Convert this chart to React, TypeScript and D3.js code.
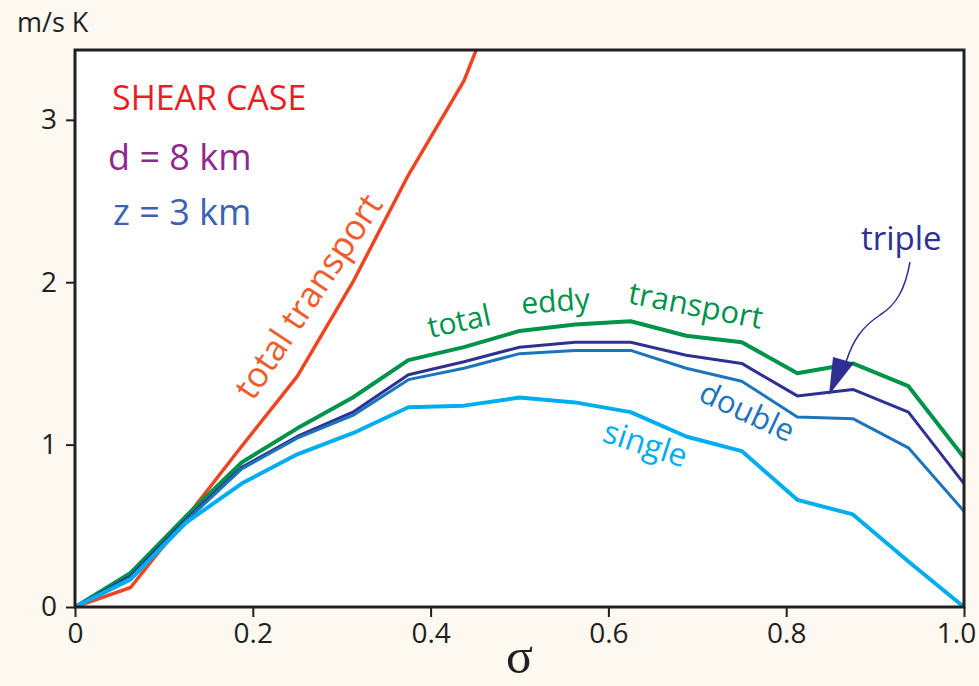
import React, { useRef, useEffect } from "react";
import * as d3 from "d3";

// sigma levels (17 points, step 1/16)
const sigma = [
  0, 0.0625, 0.125, 0.1875, 0.25, 0.3125, 0.375, 0.4375, 0.5, 0.5625, 0.625, 0.6875, 0.75, 0.8125, 0.875,
  0.9375, 1.0,
];
// total transport only defined until it leaves the frame
const totalTransport = [0, 0.12, 0.55, 0.99, 1.42, 2.0, 2.66, 3.24, 4.1];
const totalEddy = [0, 0.21, 0.56, 0.89, 1.1, 1.29, 1.52, 1.6, 1.7, 1.74, 1.76, 1.67, 1.63, 1.44, 1.5, 1.36, 0.92];
const triple = [0, 0.19, 0.54, 0.86, 1.05, 1.2, 1.43, 1.51, 1.6, 1.63, 1.63, 1.55, 1.5, 1.3, 1.34, 1.2, 0.76];
const double = [0, 0.18, 0.53, 0.85, 1.04, 1.18, 1.4, 1.47, 1.56, 1.58, 1.58, 1.47, 1.39, 1.17, 1.16, 0.98, 0.59];
const single = [0, 0.17, 0.52, 0.76, 0.94, 1.07, 1.23, 1.24, 1.29, 1.26, 1.2, 1.05, 0.96, 0.66, 0.57, 0.28, 0];

const xTicks = [0, 0.2, 0.4, 0.6, 0.8, 1.0];
const yTicks = [0, 1, 2, 3];

const series = [
  { name: "total transport", values: totalTransport, color: "#ef4423", width: 3.5 },
  { name: "total eddy", values: totalEddy, color: "#00934a", width: 4 },
  { name: "triple", values: triple, color: "#2e3192", width: 3 },
  { name: "double", values: double, color: "#1c75bc", width: 3 },
  { name: "single", values: single, color: "#00aeef", width: 4 },
];

const FONT = "'Open Sans', 'Noto Sans', sans-serif";

const ShearChart = ({ width = 979, height = 686 }) => {
  const svgRef = useRef(null);

  useEffect(() => {
    const svg = d3.select(svgRef.current);
    svg.selectAll("*").remove();

    const left = 75,
      right = 964,
      top = 50,
      bottom = 607;

    svg.append("rect").attr("width", width).attr("height", height).attr("fill", "#fdf8f0");

    const x = d3.scaleLinear().domain([0, 1]).range([left, right]);
    const y = d3.scaleLinear().domain([0, 3.43]).range([bottom, top]);

    svg
      .append("rect")
      .attr("x", left)
      .attr("y", top)
      .attr("width", right - left)
      .attr("height", bottom - top)
      .attr("fill", "#ffffff");

    svg
      .append("clipPath")
      .attr("id", "plot-clip")
      .append("rect")
      .attr("x", left)
      .attr("y", top)
      .attr("width", right - left)
      .attr("height", bottom - top);

    // axes
    const gx = svg
      .append("g")
      .attr("transform", `translate(0,${bottom})`)
      .call(
        d3
          .axisBottom(x)
          .tickValues(xTicks)
          .tickSize(10)
          .tickPadding(6)
          .tickFormat((d) => (d === 0 ? "0" : d3.format(".1f")(d)))
      );
    const gy = svg
      .append("g")
      .attr("transform", `translate(${left},0)`)
      .call(d3.axisLeft(y).tickValues(yTicks).tickSize(9).tickPadding(9).tickFormat(d3.format("d")));

    [gx, gy].forEach((g) => {
      g.select(".domain").remove();
      g.selectAll("line").attr("stroke", "#231f20").attr("stroke-width", 2);
      g.selectAll("text").attr("fill", "#231f20").style("font-family", FONT).style("font-size", "28px");
    });
    // keep the last x label inside the page
    gx.selectAll("text")
      .filter((d) => d === 1)
      .attr("dx", -8);

    // lines
    const lineGroup = svg.append("g").attr("clip-path", "url(#plot-clip)");
    series.forEach((s) => {
      const line = d3
        .line()
        .x((d, i) => x(sigma[i]))
        .y((d) => y(d));
      lineGroup
        .append("path")
        .datum(s.values)
        .attr("fill", "none")
        .attr("stroke", s.color)
        .attr("stroke-width", s.width)
        .attr("stroke-linejoin", "round")
        .attr("d", line);
    });

    // frame
    svg
      .append("rect")
      .attr("x", left)
      .attr("y", top)
      .attr("width", right - left)
      .attr("height", bottom - top)
      .attr("fill", "none")
      .attr("stroke", "#231f20")
      .attr("stroke-width", 3);

    const label = (txt, px, py, color, size, rotate = 0, anchor = "start") =>
      svg
        .append("text")
        .attr("transform", `translate(${px},${py}) rotate(${rotate})`)
        .attr("text-anchor", anchor)
        .attr("fill", color)
        .style("font-family", FONT)
        .style("font-size", `${size}px`)
        .text(txt);

    label("m/s K", 17, 32, "#231f20", 27);
    label("SHEAR CASE", 112, 110, "#ed1c24", 34);
    label("d = 8 km", 108, 170, "#92278f", 36);
    label("z = 3 km", 113, 225, "#3b63b3", 36);

    label("total transport", 253, 402, "#f15a29", 35, -56.5);
    label("total", 430, 338, "#00934a", 30, -12);
    label("eddy", 522, 314, "#00934a", 30, -4);
    label("transport", 627, 303, "#00934a", 31, 11);
    label("double", 697, 400, "#1c75bc", 31, 25);
    label("single", 601, 441, "#00aeef", 32, 18);
    label("triple", 861, 250, "#2e3192", 33);

    // arrow to the triple curve
    svg
      .append("path")
      .attr("d", "M910,262 C905,290 896,305 880,315 C862,327 853,340 846,362")
      .attr("fill", "none")
      .attr("stroke", "#2e3192")
      .attr("stroke-width", 1.5);
    svg.append("path").attr("d", "M833,357 L854,363 L829,395 Z").attr("fill", "#2e3192");

    // x axis title
    svg
      .append("text")
      .attr("x", x(0.5))
      .attr("y", 673)
      .attr("text-anchor", "middle")
      .attr("fill", "#231f20")
      .style("font-family", "'Liberation Serif', 'DejaVu Serif', serif")
      .style("font-size", "50px")
      .text("σ");
  }, [width, height]);

  return (
    <div style={{ position: "absolute", left: 0, top: 0 }}>
      <svg ref={svgRef} width={width} height={height} style={{ display: "block" }}></svg>
    </div>
  );
};

export default function App() {
  return <ShearChart />;
}
